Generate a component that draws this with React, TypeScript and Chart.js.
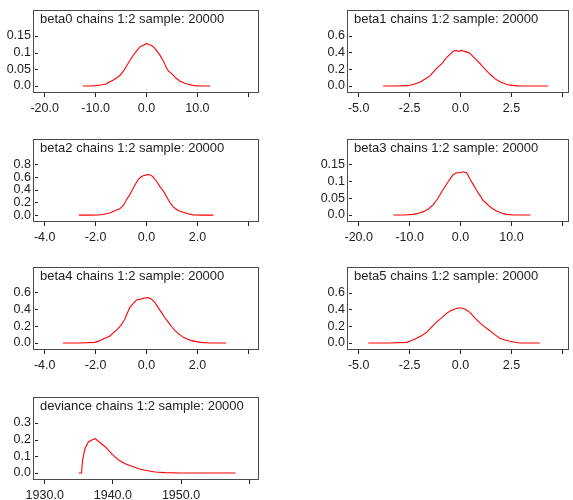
import React, { useEffect, useRef } from 'react';
import { Chart, registerables } from 'chart.js';

Chart.register(...registerables);

const FONT = "'Liberation Sans', Arial, sans-serif";
const TEXT = '#222222';
const FRAME = '#4a4a4a';
const LINE = '#ff0000';

// ---- data ----
const beta0X = [-12.5, -11, -10, -9, -8, -7.2, -6.5, -5.9, -5.2, -4.5, -3.6, -3, -2.6, -2, -1.3, -0.6, 0, 0.4, 1, 1.6, 2.2, 2.6, 3.2, 3.9, 4.3, 5, 5.8, 6.6, 7.5, 8.5, 9.5, 10.5, 12.5];
const beta0Y = [0, 0, 0.001, 0.003, 0.006, 0.013, 0.018, 0.024, 0.032, 0.045, 0.068, 0.082, 0.092, 0.104, 0.117, 0.122, 0.127, 0.124, 0.121, 0.113, 0.101, 0.093, 0.078, 0.055, 0.045, 0.036, 0.023, 0.014, 0.008, 0.004, 0.001, 0, 0];

const beta1X = [-3.8, -3.2, -2.6, -2.3, -2, -1.84, -1.5, -1.18, -0.9, -0.69, -0.5, -0.36, -0.2, -0.1, 0, 0.1, 0.25, 0.46, 0.7, 0.95, 1.2, 1.45, 1.7, 1.94, 2.2, 2.43, 2.8, 3.5, 4.3];
const beta1Y = [0, 0, 0.004, 0.022, 0.045, 0.068, 0.12, 0.21, 0.27, 0.34, 0.38, 0.415, 0.425, 0.41, 0.425, 0.42, 0.41, 0.39, 0.33, 0.27, 0.2, 0.14, 0.085, 0.05, 0.025, 0.01, 0.002, 0, 0];

const beta2X = [-2.66, -2.2, -1.9, -1.71, -1.45, -1.25, -1.05, -0.9, -0.79, -0.65, -0.53, -0.42, -0.33, -0.22, -0.13, 0, 0.07, 0.18, 0.26, 0.4, 0.53, 0.66, 0.79, 0.92, 1.05, 1.2, 1.32, 1.58, 1.84, 2.2, 2.63];
const beta2Y = [0, 0, 0.003, 0.01, 0.035, 0.07, 0.1, 0.16, 0.24, 0.33, 0.42, 0.5, 0.56, 0.6, 0.62, 0.635, 0.64, 0.63, 0.6, 0.53, 0.45, 0.38, 0.29, 0.2, 0.13, 0.085, 0.063, 0.026, 0.004, 0, 0];

const beta3X = [-13.2, -11, -9.3, -8.3, -7.3, -6.3, -5.4, -4.5, -3.7, -3, -2.4, -1.9, -1.4, -0.8, 0, 0.5, 1.2, 1.8, 2.5, 3.1, 3.8, 4.4, 5.1, 5.75, 6.4, 7.1, 8, 9, 10.5, 13.7];
const beta3Y = [0, 0, 0.002, 0.005, 0.01, 0.018, 0.03, 0.048, 0.069, 0.085, 0.099, 0.11, 0.12, 0.125, 0.125, 0.128, 0.125, 0.108, 0.09, 0.074, 0.058, 0.044, 0.034, 0.025, 0.018, 0.012, 0.006, 0.002, 0, 0];

const beta4X = [-3.29, -2.6, -2.04, -1.85, -1.71, -1.45, -1.3, -1.12, -0.98, -0.86, -0.76, -0.66, -0.52, -0.39, -0.25, -0.13, 0.07, 0.2, 0.33, 0.46, 0.59, 0.72, 0.86, 1, 1.12, 1.3, 1.45, 1.62, 1.78, 2.11, 2.5, 3.13];
const beta4Y = [0, 0, 0.008, 0.025, 0.047, 0.08, 0.12, 0.17, 0.22, 0.28, 0.35, 0.42, 0.47, 0.51, 0.52, 0.53, 0.54, 0.52, 0.48, 0.42, 0.36, 0.3, 0.245, 0.19, 0.146, 0.1, 0.067, 0.045, 0.028, 0.008, 0, 0];

const beta5X = [-4.53, -3.5, -2.65, -2.4, -2.16, -1.9, -1.67, -1.42, -1.18, -0.93, -0.69, -0.48, -0.28, -0.1, 0.05, 0.25, 0.46, 0.7, 0.95, 1.2, 1.44, 1.68, 1.93, 2.18, 2.42, 2.9, 3.89];
const beta5Y = [0, 0, 0.008, 0.03, 0.056, 0.09, 0.127, 0.19, 0.25, 0.3, 0.354, 0.385, 0.406, 0.418, 0.418, 0.4, 0.366, 0.3, 0.24, 0.19, 0.147, 0.1, 0.056, 0.035, 0.02, 0, 0];

const devX = [1934.98, 1935.4, 1935.55, 1935.9, 1936.4, 1937.0, 1937.4, 1938.0, 1938.9, 1939.9, 1940.9, 1941.8, 1942.8, 1943.8, 1944.7, 1946.2, 1947.6, 1950, 1958.0];
const devY = [0, 0, 0.076, 0.146, 0.186, 0.2, 0.206, 0.186, 0.156, 0.112, 0.076, 0.056, 0.04, 0.026, 0.016, 0.006, 0.002, 0, 0];

// ---- ticks ----
const xTicksWide = [-20, -10, 0, 10, 20];
const xLabelsWide = ['-20.0', '-10.0', '0.0', '10.0', ''];
const xTicksB1 = [-5, -2.5, 0, 2.5, 5];
const xLabelsB1 = ['-5.0', '-2.5', '0.0', '2.5', ''];
const xTicksB2 = [-4, -2, 0, 2, 4];
const xLabelsB2 = ['-4.0', '-2.0', '0.0', '2.0', ''];
const xTicksDev = [1930, 1940, 1950, 1960];
const xLabelsDev = ['1930.0', '1940.0', '1950.0', ''];

const yTicksSmall = [0, 0.05, 0.1, 0.15];
const yLabelsSmall = ['0.0', '0.05', '0.1', '0.15'];
const yTicksMid = [0, 0.2, 0.4, 0.6];
const yLabelsMid = ['0.0', '0.2', '0.4', '0.6'];
const yTicksB2 = [0, 0.2, 0.4, 0.6, 0.8];
const yLabelsB2 = ['0.0', '0.2', '0.4', '0.6', '0.8'];
const yTicksDev = [0, 0.1, 0.2, 0.3];
const yLabelsDev = ['0.0', '0.1', '0.2', '0.3'];

type Panel = {
  title: string;
  xs: number[];
  ys: number[];
  xTicks: number[];
  xLabels: string[];
  yTicks: number[];
  yLabels: string[];
  xMin: number;
  xMax: number;
  yMin: number;
  yMax: number;
  col: number;
  row: number;
};

const panels: Panel[] = [
  { title: 'beta0 chains 1:2 sample: 20000', xs: beta0X, ys: beta0Y, xTicks: xTicksWide, xLabels: xLabelsWide, yTicks: yTicksSmall, yLabels: yLabelsSmall, xMin: -22.3, xMax: 22.1, yMin: -0.0209, yMax: 0.227, col: 0, row: 0 },
  { title: 'beta1 chains 1:2 sample: 20000', xs: beta1X, ys: beta1Y, xTicks: xTicksB1, xLabels: xLabelsB1, yTicks: yTicksMid, yLabels: yLabelsMid, xMin: -5.574, xMax: 5.324, yMin: -0.0835, yMax: 0.907, col: 1, row: 0 },
  { title: 'beta2 chains 1:2 sample: 20000', xs: beta2X, ys: beta2Y, xTicks: xTicksB2, xLabels: xLabelsB2, yTicks: yTicksB2, yLabels: yLabelsB2, xMin: -4.46, xMax: 4.42, yMin: -0.108, yMax: 1.2, col: 0, row: 1 },
  { title: 'beta3 chains 1:2 sample: 20000', xs: beta3X, ys: beta3Y, xTicks: xTicksWide, xLabels: xLabelsWide, yTicks: yTicksSmall, yLabels: yLabelsSmall, xMin: -22.3, xMax: 21.3, yMin: -0.0207, yMax: 0.225, col: 1, row: 1 },
  { title: 'beta4 chains 1:2 sample: 20000', xs: beta4X, ys: beta4Y, xTicks: xTicksB2, xLabels: xLabelsB2, yTicks: yTicksMid, yLabels: yLabelsMid, xMin: -4.46, xMax: 4.42, yMin: -0.083, yMax: 0.902, col: 0, row: 2 },
  { title: 'beta5 chains 1:2 sample: 20000', xs: beta5X, ys: beta5Y, xTicks: xTicksB1, xLabels: xLabelsB1, yTicks: yTicksMid, yLabels: yLabelsMid, xMin: -5.574, xMax: 5.324, yMin: -0.0835, yMax: 0.907, col: 1, row: 2 },
  { title: 'deviance chains 1:2 sample: 20000', xs: devX, ys: devY, xTicks: xTicksDev, xLabels: xLabelsDev, yTicks: yTicksDev, yLabels: yLabelsDev, xMin: 1928.28, xMax: 1961.44, yMin: -0.042, yMax: 0.456, col: 1 - 1, row: 3 },
];

// layout geometry
const COL_LEFT = [0, 290];
const COL_WIDTH = [286, 283];
const COL_AXIS = [33, 57];
const COL_RIGHT_PAD = [27, 4];
const ROW_TOP = [0, 129, 257, 387];
const CANVAS_H = 113;
const PAD_TOP = 10;
const BOX_H = 83;

const framePlugin = {
  id: 'frameAndTitle',
  afterDatasetsDraw(chart: any) {
    const { ctx, chartArea } = chart;
    const { left, top, right, bottom } = chartArea;
    const title: string = chart.options.plugins.frameAndTitle.title;
    const yTicks: number[] = chart.options.plugins.frameAndTitle.yTicks;
    ctx.save();
    ctx.strokeStyle = FRAME;
    ctx.lineWidth = 1;
    ctx.strokeRect(Math.round(left) + 0.5, Math.round(top) + 0.5, Math.round(right - left) - 1, Math.round(bottom - top) - 1);
    ctx.strokeStyle = '#222';
    const ys = chart.scales.y;
    ctx.beginPath();
    yTicks.forEach((v) => {
      const py = Math.round(ys.getPixelForValue(v)) + 0.5;
      ctx.moveTo(left + 2, py);
      ctx.lineTo(left + 5, py);
    });
    ctx.stroke();
    ctx.fillStyle = TEXT;
    ctx.font = `13px ${FONT}`;
    ctx.textBaseline = 'alphabetic';
    ctx.textAlign = 'left';
    ctx.fillText(title, left + 7, top + 13);
    ctx.restore();
  },
};

function DensityPanel({ p }: { p: Panel }) {
  const ref = useRef<HTMLCanvasElement>(null);
  useEffect(() => {
    if (!ref.current) return;
    const chart = new Chart(ref.current, {
      type: 'line',
      data: {
        datasets: [
          {
            data: p.xs.map((x, i) => ({ x, y: p.ys[i] })),
            borderColor: LINE,
            borderWidth: 1.1,
            pointRadius: 0,
            tension: 0,
            fill: false,
          },
        ],
      },
      options: {
        animation: false,
        responsive: false,
        devicePixelRatio: 1,
        layout: { padding: { left: 0, top: PAD_TOP, right: COL_RIGHT_PAD[p.col], bottom: 0 } },
        plugins: {
          legend: { display: false },
          tooltip: { enabled: false },
          title: { display: false },
          // @ts-ignore
          frameAndTitle: { title: p.title, yTicks: p.yTicks },
        },
        scales: {
          x: {
            type: 'linear',
            min: p.xMin,
            max: p.xMax,
            afterBuildTicks: (s: any) => {
              s.ticks = p.xTicks.map((v) => ({ value: v }));
            },
            afterFit: (s: any) => {
              s.height = CANVAS_H - PAD_TOP - BOX_H;
            },
            grid: { drawOnChartArea: false, drawTicks: true, tickLength: 4, color: '#222', lineWidth: 1 },
            border: { display: false },
            ticks: {
              autoSkip: false,
              maxRotation: 0,
              padding: 4,
              color: TEXT,
              font: { family: FONT, size: 12.5 },
              callback: (_v: any, i: number) => p.xLabels[i],
            },
          },
          y: {
            type: 'linear',
            min: p.yMin,
            max: p.yMax,
            afterBuildTicks: (s: any) => {
              s.ticks = p.yTicks.map((v) => ({ value: v }));
            },
            afterFit: (s: any) => {
              s.width = COL_AXIS[p.col];
            },
            grid: { display: false, drawTicks: false },
            border: { display: false },
            ticks: {
              autoSkip: false,
              padding: 2,
              color: TEXT,
              font: { family: FONT, size: 12.5 },
              callback: (_v: any, i: number) => p.yLabels[i],
            },
          },
        },
      },
      plugins: [framePlugin],
    } as any);
    return () => chart.destroy();
  }, [p]);

  return (
    <canvas
      ref={ref}
      width={COL_WIDTH[p.col]}
      height={CANVAS_H}
      style={{
        position: 'absolute',
        left: COL_LEFT[p.col],
        top: ROW_TOP[p.row],
        width: COL_WIDTH[p.col],
        height: CANVAS_H,
        display: 'block',
      }}
    />
  );
}

export default function App() {
  return (
    <div
      style={{
        position: 'absolute',
        left: 0,
        top: 0,
        width: 573,
        height: 500,
        overflow: 'hidden',
        background: '#ffffff',
      }}
    >
      {panels.map((p) => (
        <DensityPanel key={p.title} p={p} />
      ))}
    </div>
  );
}
